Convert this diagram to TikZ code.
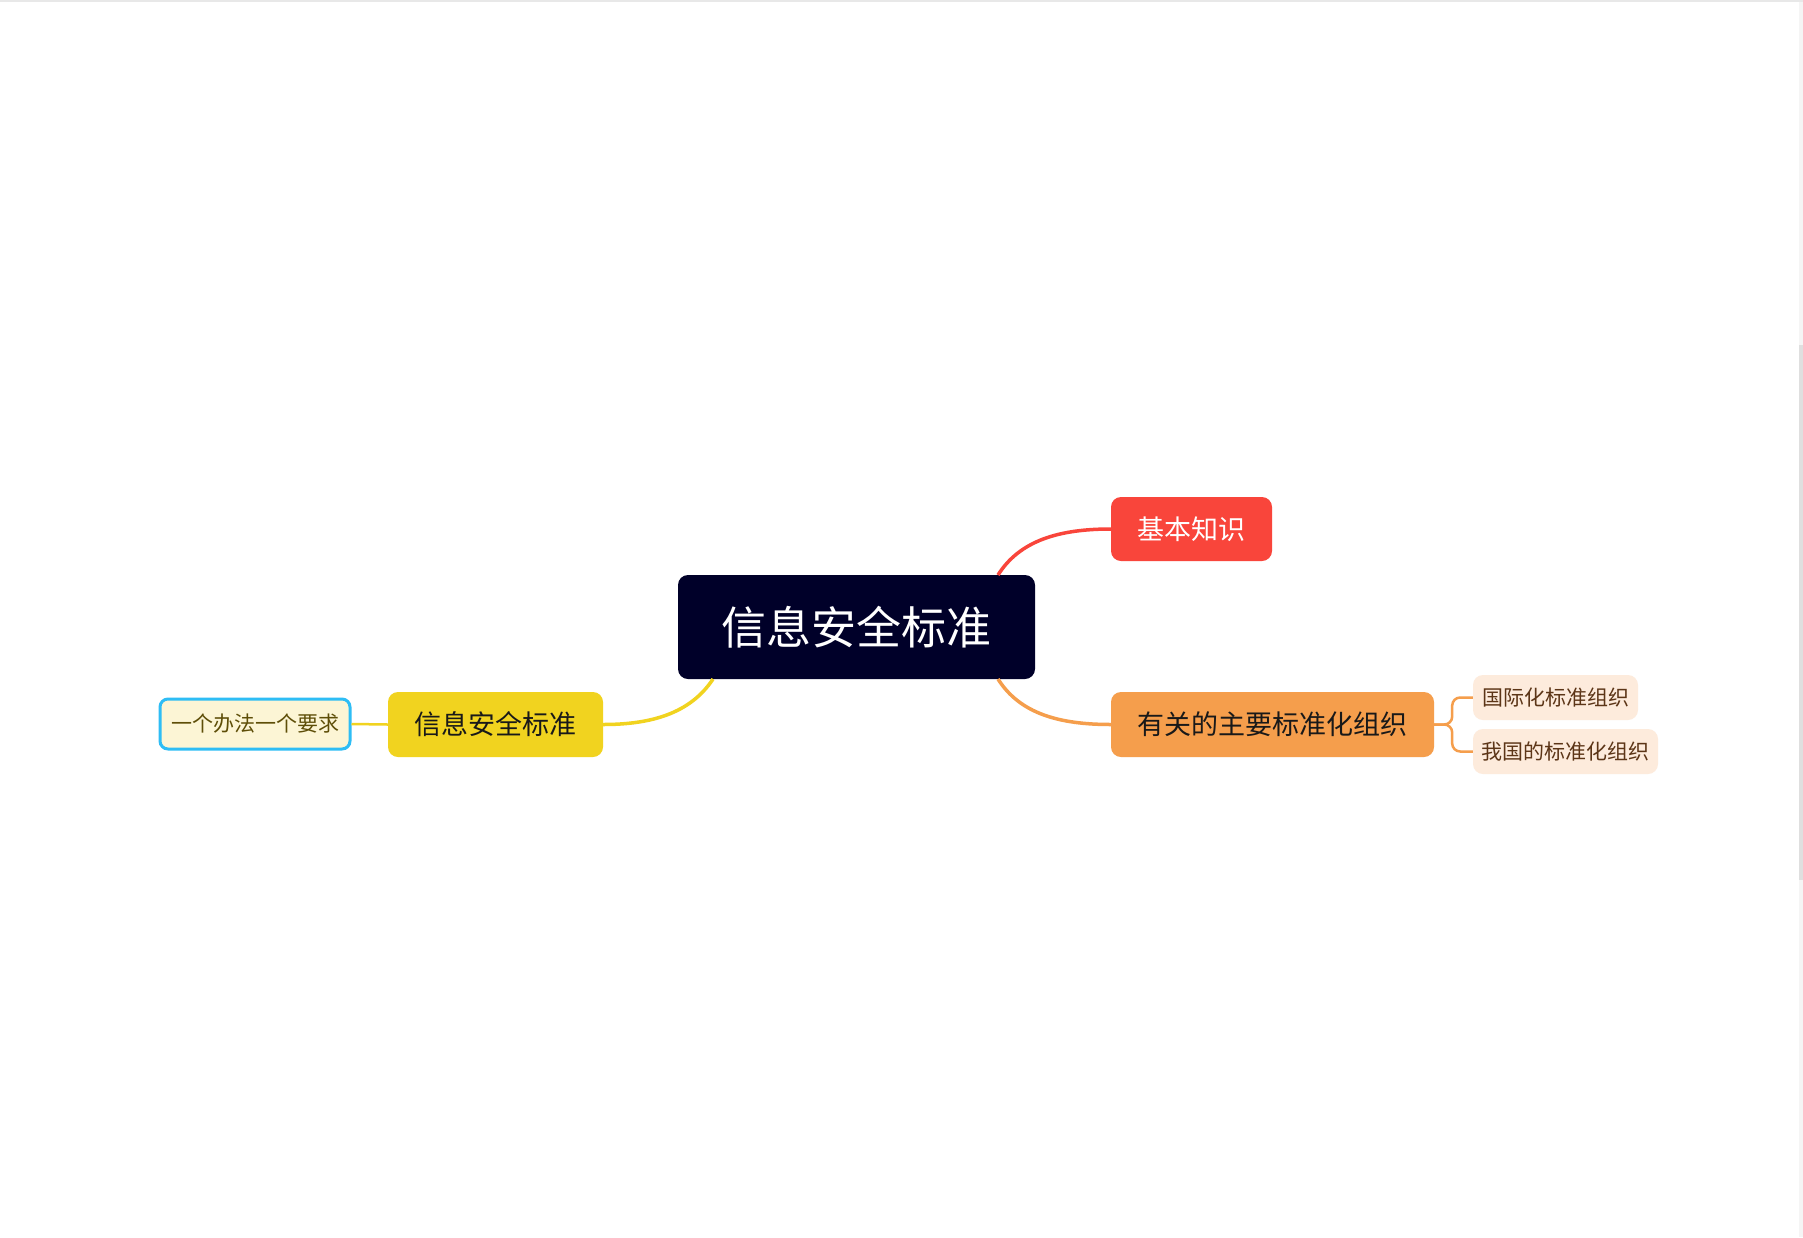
\documentclass[tikz,border=0pt]{standalone}
\usepackage{fontspec}
\setmainfont{Noto Sans CJK SC}
\newfontfamily\cjk{Noto Sans CJK SC}
\definecolor{rootc}{HTML}{000029}
\definecolor{redc}{HTML}{F9453B}
\definecolor{orangec}{HTML}{F59E4C}
\definecolor{yellowc}{HTML}{F1D31F}
\definecolor{bluec}{HTML}{2EBDF5}
\definecolor{palec}{HTML}{FCF5D5}
\definecolor{peachc}{HTML}{FDEBDC}
\definecolor{olivec}{HTML}{5E4E08}
\definecolor{brownc}{HTML}{5C3517}
\tikzset{
  box/.style={rounded corners=10pt, inner sep=0pt, align=center, font=\cjk},
  branch/.style={line width=3.5pt},
  twig/.style={line width=2.5pt},
}
\begin{document}
\begin{tikzpicture}[x=1pt,y=-1pt]
\useasboundingbox (0,0) rectangle (1803,1237);
\fill[white] (0,0) rectangle (1803,1237);
\fill[gray!18] (0,0) rectangle (1803,2);
\fill[gray!8] (1799,2) rectangle (1803,1237);
\fill[gray!25] (1799,345) rectangle (1803,880);

% connector coordinates
\coordinate (rs) at (998,575);
\coordinate (os) at (998,679);
\coordinate (ys) at (713,679);

% nodes
\node[box, fill=rootc, text=white, minimum width=357pt, minimum height=104pt, font=\cjk\fontsize{45}{50}\selectfont] (root) at (856.5,627) {信息安全标准};
\node[box, fill=redc, text=white, minimum width=161pt, minimum height=64pt, font=\cjk\fontsize{27}{30}\selectfont] (basic) at (1191.5,529) {基本知识};
\node[box, fill=orangec, text=black!90, minimum width=323pt, minimum height=65pt, font=\cjk\fontsize{27}{30}\selectfont] (org) at (1272.5,724.5) {有关的主要标准化组织};
\node[box, fill=yellowc, text=black!90, minimum width=215pt, minimum height=65pt, font=\cjk\fontsize{27}{30}\selectfont] (std) at (495.5,724.5) {信息安全标准};
\node[box, rounded corners=8pt, draw=bluec, line width=3pt, fill=palec, text=olivec, minimum width=190pt, minimum height=50pt, font=\cjk\fontsize{21}{24}\selectfont] (one) at (255,724) {一个办法一个要求};
\node[box, fill=peachc, text=brownc, minimum width=165pt, minimum height=45pt, font=\cjk\fontsize{21}{24}\selectfont] (c1) at (1555.5,697.5) {国际化标准组织};
\node[box, fill=peachc, text=brownc, minimum width=185pt, minimum height=45pt, font=\cjk\fontsize{21}{24}\selectfont] (c2) at (1565.5,751.5) {我国的标准化组织};

% connectors
\draw[branch, redc] (rs) .. controls (1020,540) and (1060,529) .. (basic.west);
\draw[branch, orangec] (os) .. controls (1020,714) and (1060,724.5) .. (org.west);
\draw[branch, yellowc] (ys) .. controls (690,714) and (650,724.5) .. (std.east);
\draw[twig, yellowc] (one.east) -- (std.west);
\draw[twig, orangec, rounded corners=8pt] (org.east) -- ++(18,0) |- (c1.west);
\draw[twig, orangec, rounded corners=8pt] (org.east) -- ++(18,0) |- (c2.west);
\end{tikzpicture}
\end{document}
